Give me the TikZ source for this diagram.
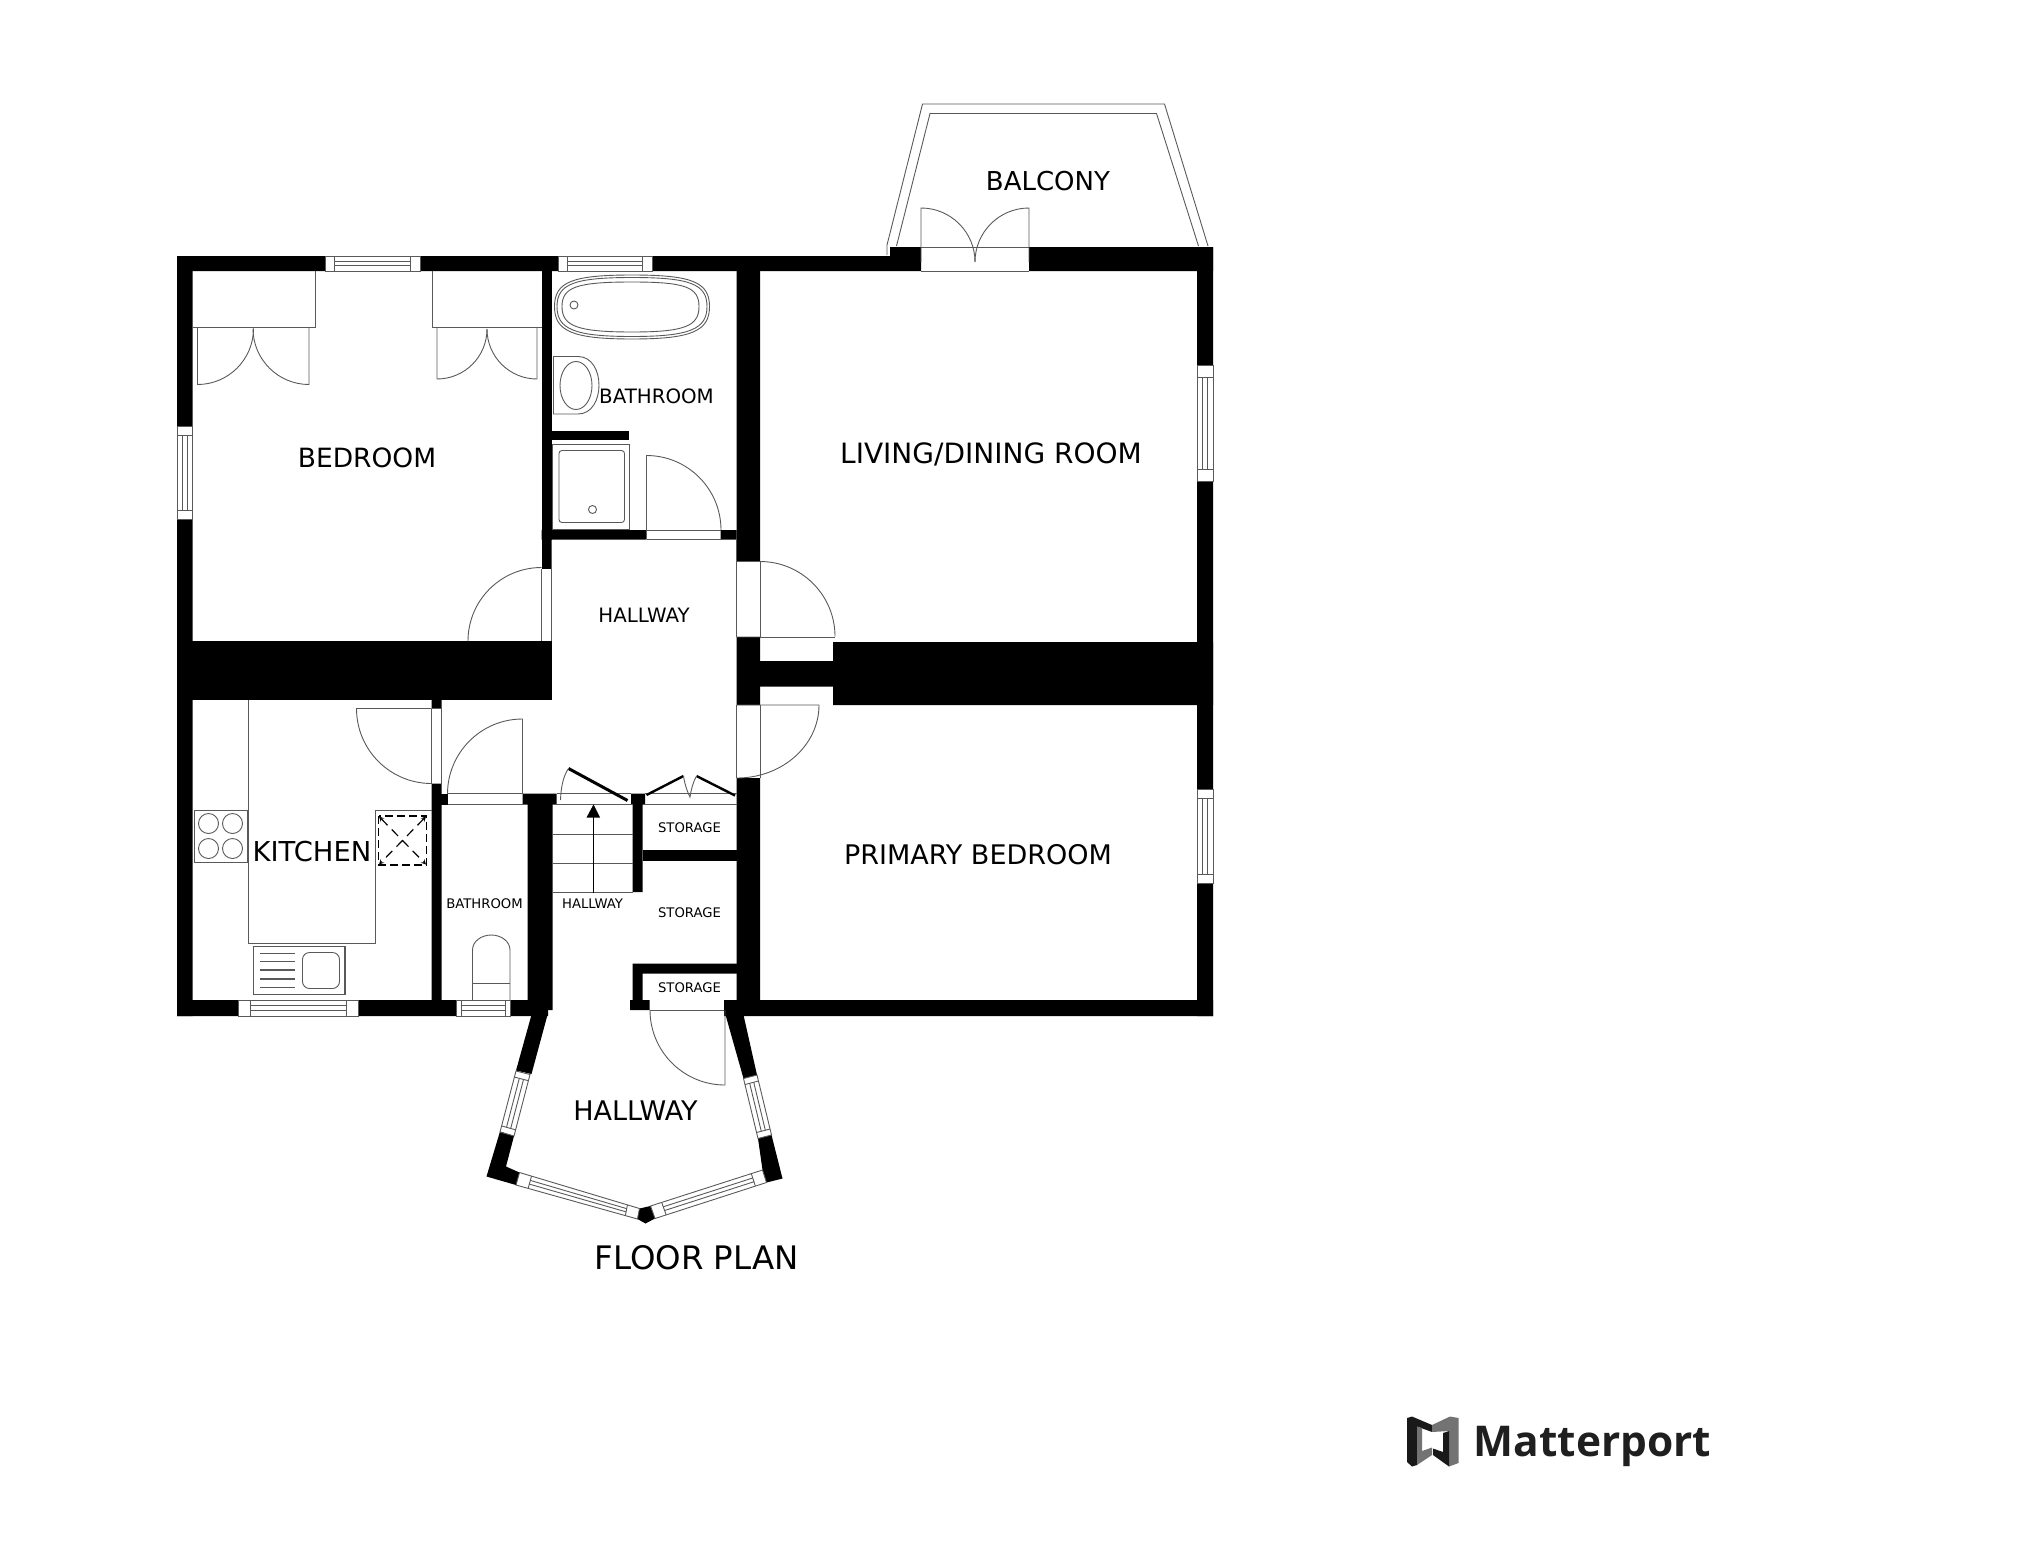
\documentclass[tikz,border=0pt]{standalone}
\usepackage{fontspec}
\setmainfont{DejaVu Sans}
\newfontfamily\logofont{Open Sans}
\usetikzlibrary{calc}

\tikzset{
    wall/.style={fill=black},
    fitting/.style={draw=black!65,line width=0.9pt},
    bigroom/.style={inner sep=0pt,font=\fontsize{26.5}{28}\selectfont},
    midroom/.style={inner sep=0pt,font=\fontsize{19.8}{21}\selectfont},
    tinyroom/.style={inner sep=0pt,font=\fontsize{13.2}{15}\selectfont},
}

\begin{document}
\begin{tikzpicture}[x=1pt,y=-1pt]
    \useasboundingbox (0,0) rectangle (2025,1552);

    % outer walls and partitions
    \fill[wall] (177,256) rectangle (325,271) (420,256) rectangle (558,271) (652,256) rectangle (890,271);
    \fill[wall] (890,247) rectangle (921,271) (1029,247) rectangle (1213,271);
    \fill[wall] (177,256) rectangle (192.5,426) (177,519.5) rectangle (192.5,1016);
    \fill[wall] (1197,247) rectangle (1213,365.5) (1197,481) rectangle (1213,789) (1197,883.5) rectangle (1213,1016);
    \fill[wall] (177,1000) rectangle (238.5,1016) (358.5,1000) rectangle (456,1016) (510.5,1000) rectangle (548,1016) (724,1000) rectangle (1213,1016);
    \fill[wall] (177,641) rectangle (551.5,700);
    \fill[wall] (833,642) rectangle (1213,705) (760,661) rectangle (833,686.5);
    \fill[wall] (541.5,271) rectangle (551.5,568.5);
    \fill[wall] (736.5,271) rectangle (760,561.5) (736.5,637) rectangle (760,705) (736.5,778) rectangle (760,1000);
    \fill[wall] (551.5,430.5) rectangle (628.5,440);
    \fill[wall] (541.5,530) rectangle (646.5,539.5) (720.5,530) rectangle (736.5,539.5);
    \fill[wall] (431.5,700) rectangle (441.5,708.5) (431.5,783.5) rectangle (441.5,1000);
    \fill[wall] (431.5,793.5) rectangle (447.5,804.5);
    \fill[wall] (522.5,793.5) rectangle (556.5,804.5) (527.5,793.5) rectangle (552.5,1010);
    \fill[wall] (631,793.5) rectangle (645,804.5) (632.5,804) rectangle (642.5,892);
    \fill[wall] (642.5,850) rectangle (737,860.5);
    \fill[wall] (632.5,963.5) rectangle (737,973.5) (632.5,963.5) rectangle (642.5,1010) (630,1000) rectangle (649.5,1010);

    % bay of the entrance
    \fill[wall] (532,1013) -- (548,1013) -- (531.5,1074) -- (516,1070.5) -- cycle;
    \fill[wall] (500,1131.5) -- (514,1136) -- (506,1166.5) -- (519.5,1172.5) -- (516,1185) -- (486.5,1176.5) -- cycle;
    \fill[wall] (725,1013) -- (743.5,1015) -- (757,1075) -- (743.5,1078.5) -- cycle;
    \fill[wall] (758,1138.5) -- (771.5,1135) -- (782.5,1178.5) -- (766.5,1182.5) -- (762.5,1170) -- cycle;
    \fill[wall] (639.5,1208.5) -- (650.5,1206) -- (655,1218.5) -- (645.5,1223.5) -- (637.5,1219) -- cycle;

    % windows, given by the four corners
    \foreach \ax/\ay/\bx/\by/\cx/\cy/\dx/\dy in {
        325/256/325/271/420/256/420/271, 558/256/558/271/652/256/652/271,
        177/426/192.5/426/177/519.5/192.5/519.5, 1197/365.5/1213/365.5/1197/481/1213/481,
        1197/789/1213/789/1197/883.5/1213/883.5, 238.5/1000/238.5/1016/358.5/1000/358.5/1016,
        456/1000/456/1016/510.5/1000/510.5/1016,
        530/1074.5/516/1071/514/1136/500/1132, 743.5/1078.5/757/1075/758/1138.5/771.5/1135,
        519.5/1172.5/516/1185/639.5/1208.5/637.5/1219, 650.5/1206/655/1218.5/762.5/1170/766.5/1182.5}{
        \coordinate (A) at (\ax,\ay);
        \coordinate (B) at (\bx,\by);
        \coordinate (C) at (\cx,\cy);
        \coordinate (D) at (\dx,\dy);
        \coordinate (A1) at ($(A)!0.1!(C)$);
        \coordinate (B1) at ($(B)!0.1!(D)$);
        \coordinate (C1) at ($(A)!0.9!(C)$);
        \coordinate (D1) at ($(B)!0.9!(D)$);
        \draw[fitting] (A) -- (B) -- (D) -- (C) -- cycle;
        \draw[fitting] (A1) -- (B1) (C1) -- (D1);
        \draw[fitting] ($(A1)!0.35!(B1)$) -- ($(C1)!0.35!(D1)$);
        \draw[fitting] ($(A1)!0.65!(B1)$) -- ($(C1)!0.65!(D1)$);
    }

    % balcony
    \draw[fitting] (887,255) -- (887,245) -- (922.5,104) -- (1164.5,104) -- (1208,246);
    \draw[fitting] (896.5,246) -- (930,113.5) -- (1156.5,113.5) -- (1198.5,246);
    \draw[fitting] (921,247) -- (1029,247) (921,271) -- (1029,271);
    \draw[fitting] (921,262) -- (921,208) arc [start angle=90, end angle=0, radius=54pt];
    \draw[fitting] (1029,262) -- (1029,208) arc [start angle=90, end angle=180, radius=54pt];

    % doors
    \draw[fitting] (541.5,568.5) -- (541.5,641) (551.5,539.5) -- (551.5,641);
    \draw[fitting] (468,641) arc [start angle=180, end angle=90, radius=73.5pt];
    \draw[fitting] (646.5,530) -- (720.5,530) (646.5,539.5) -- (736.5,539.5);
    \draw[fitting] (646.5,530) -- (646.5,455.5) arc [start angle=90, end angle=0, radius=74.5pt];
    \draw[fitting] (736.5,539.5) -- (736.5,637) (760,561.5) -- (760,637) -- (835,637);
    \draw[fitting] (736.5,637) -- (760,637) (760,561.5) arc [start angle=90, end angle=0, radius=75pt];
    \draw[fitting] (736.5,705) -- (819,705) arc [start angle=0, end angle=-90, x radius=82pt, y radius=73pt];
    \draw[fitting] (736.5,705) -- (736.5,778) (760,705) -- (760,778);
    \draw[fitting] (431.5,708.5) -- (356.5,708.5) arc [start angle=180, end angle=270, radius=75pt];
    \draw[fitting] (441.5,700) -- (441.5,793.5) (431.5,708.5) -- (431.5,783.5);
    \draw[fitting] (447.5,793.5) -- (522.5,793.5) (447.5,804.5) -- (522.5,804.5);
    \draw[fitting] (522.5,793.5) -- (522.5,719) arc [start angle=90, end angle=180, radius=75pt];
    \draw[fitting] (649.5,1010) -- (724,1010);
    \draw[fitting] (650,1010) arc [start angle=180, end angle=270, radius=75pt] -- (725,1010);

    % fitted cupboards of the bedroom
    \draw[fitting] (192.5,327.5) -- (315.5,327.5) -- (315.5,271) (432,271) -- (432,327.5) -- (541.5,327.5);
    \draw[fitting] (197.5,327.5) -- (197.5,384.5) arc [start angle=-90, end angle=0, radius=56pt];
    \draw[fitting] (309,327.5) -- (309,384.5) arc [start angle=270, end angle=180, radius=56pt];
    \draw[fitting] (437,327.5) -- (437,379) arc [start angle=-90, end angle=0, radius=50pt];
    \draw[fitting] (537,327.5) -- (537,379) arc [start angle=270, end angle=180, radius=50pt];

    % bathroom
    \draw[fitting] (554.5,306.5) .. controls (554.5,282) and (572,275) .. (632,275) .. controls (692,275) and (709.5,282) .. (709.5,306.5) .. controls (709.5,331) and (692,339) .. (632,339) .. controls (572,339) and (554.5,331) .. (554.5,306.5) -- cycle;
    \draw[fitting] (557,306.5) .. controls (557,284) and (574,277.5) .. (632,277.5) .. controls (690,277.5) and (707,284) .. (707,306.5) .. controls (707,329) and (690,336.5) .. (632,336.5) .. controls (574,336.5) and (557,329) .. (557,306.5) -- cycle;
    \draw[fitting] (562,306.5) .. controls (562,287) and (577,282) .. (632,282) .. controls (685,282) and (699,287) .. (699,306.5) .. controls (699,326) and (685,332) .. (632,332) .. controls (577,332) and (562,326) .. (562,306.5) -- cycle;
    \draw[fitting] (574,305) circle [radius=4pt];
    \draw[fitting] (553.5,356.5) -- (578,356.5) .. controls (606,356.5) and (606,414) .. (578,414) -- (553.5,414) -- cycle;
    \draw[fitting] (576,385.5) ellipse [x radius=16pt, y radius=24pt];
    \draw[fitting] (552,444.5) rectangle (629.5,529);
    \draw[fitting,rounded corners=3pt] (559,450.5) rectangle (624.5,522.5);
    \draw[fitting] (592.5,509.5) circle [radius=4pt];

    % kitchen
    \draw[fitting] (248.5,700) -- (248.5,943.5) -- (375.5,943.5) -- (375.5,810.5) -- (431.5,810.5);
    \draw[fitting,line width=1.3pt] (194.5,810.5) rectangle (247.5,862.5);
    \foreach \cx in {208.5,232.5}
        \foreach \cy in {823.5,848.5}
            \draw[fitting] (\cx,\cy) circle [radius=10pt];
    \draw[line width=1.6pt,dash pattern=on 8pt off 4pt] (378.5,816) rectangle (426.5,865);
    \draw[line width=1.2pt,dash pattern=on 9pt off 6pt,<->,>=stealth] (379,816.5) -- (426,864.5);
    \draw[line width=1.2pt,dash pattern=on 9pt off 6pt,<->,>=stealth] (426,816.5) -- (379,864.5);
    \draw[fitting,line width=1.3pt] (253.5,946.5) rectangle (345,994.5);
    \foreach \cy in {953.5,961.5,970,979,987.5}
        \draw[fitting,line width=1.3pt] (260,\cy) -- (294.5,\cy);
    \draw[fitting,rounded corners=7pt] (302.5,952.5) rectangle (339.5,988.5);

    % small bathroom
    \draw[fitting] (472.5,1000) -- (472.5,950) arc [start angle=180, end angle=0, x radius=18.75pt, y radius=15pt] -- (510,1000);
    \draw[fitting] (472.5,983.5) -- (510,983.5);

    % stairs
    \draw[fitting] (552.5,804.5) -- (632.5,804.5) (552.5,892.5) -- (632.5,892.5);
    \draw[fitting] (552.5,834) -- (632.5,834) (552.5,863) -- (632.5,863);
    \draw[fitting,draw=black] (593.5,892.5) -- (593.5,810);
    \fill[black] (586.5,817.5) -- (593.5,804.5) -- (600,817.5) -- cycle;
    \draw[fitting] (556.5,793.5) -- (631,793.5);
    \draw[line width=3pt] (568.5,768.5) -- (627.5,800.5);
    \draw[fitting] (560.5,800) .. controls (561,785) and (564,775) .. (568.5,768.5);

    % storage doors
    \draw[fitting] (645,793.5) -- (736.5,793.5) (645,804.5) -- (736.5,804.5);
    \draw[line width=2.4pt] (646.5,795) -- (683.5,776) (696.5,776) -- (735,795.5);
    \draw[fitting] (683.5,776) .. controls (685,786) and (688,793) .. (690,797) .. controls (691,790) and (693,782) .. (696.5,776);

    % labels
    \node[bigroom] (bedroom) at (367,457.5) {BEDROOM};
    \node[midroom] (bathup) at (656.5,396.5) {BATHROOM};
    \node[midroom] (hallup) at (644,615) {HALLWAY};
    \node[bigroom,font=\fontsize{28}{30}\selectfont] (living) at (991,454.5) {LIVING/DINING ROOM};
    \node[bigroom,font=\fontsize{26}{28}\selectfont] (balcony) at (1048,181.5) {BALCONY};
    \node[bigroom,font=\fontsize{27.4}{30}\selectfont] (kitchen) at (312,852) {KITCHEN};
    \node[bigroom,font=\fontsize{27}{30}\selectfont] (primary) at (978,855) {PRIMARY BEDROOM};
    \node[tinyroom] (bathlow) at (484.5,903.5) {BATHROOM};
    \node[tinyroom] (hallstair) at (592.5,903.5) {HALLWAY};
    \node[tinyroom] (storeup) at (689.5,828) {STORAGE};
    \node[tinyroom] (storemid) at (689.5,913) {STORAGE};
    \node[tinyroom] (storelow) at (689.5,987.5) {STORAGE};
    \node[bigroom,font=\fontsize{27}{30}\selectfont] (hallbay) at (635.5,1111) {HALLWAY};
    \node[bigroom,font=\fontsize{32.4}{34}\selectfont] (floorplan) at (696.5,1257.5) {FLOOR PLAN};

    % logo
    \fill[black!90] (1407,1418) -- (1412,1416.5) -- (1432,1425) -- (1432,1432) -- (1417,1426.5) -- (1417,1465) -- (1412,1466.5) -- (1407,1462) -- cycle;
    \fill[black!55] (1432,1425) -- (1450,1416.5) -- (1458.5,1418) -- (1458.5,1463) -- (1449,1466.5) -- (1449,1431) -- (1432,1432) -- cycle;
    \fill[black!55] (1417,1426.5) -- (1422,1428) -- (1422,1451) -- (1432,1447.5) -- (1432,1455) -- (1417,1465) -- cycle;
    \fill[black!90] (1443,1433) -- (1449,1431) -- (1449,1466.5) -- (1433,1455) -- (1433,1448.5) -- (1443,1452) -- cycle;
    \node[inner sep=0pt,anchor=base west,text=black!88,font=\logofont\bfseries\fontsize{42.4}{45}\selectfont] (logoname) at (1473.5,1456.5) {Matterport};
\end{tikzpicture}
\end{document}
